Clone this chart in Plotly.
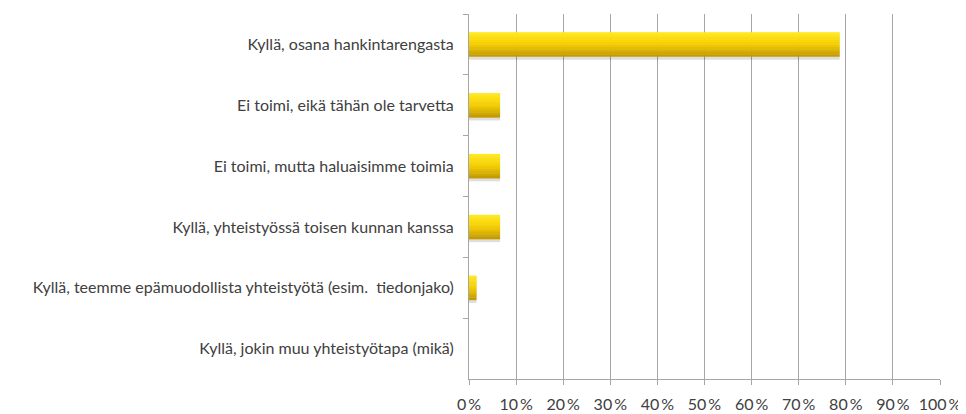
import plotly.graph_objects as go

categories = [
    "Kyllä, osana hankintarengasta",
    "Ei toimi, eikä tähän ole tarvetta",
    "Ei toimi, mutta haluaisimme toimia",
    "Kyllä, yhteistyössä toisen kunnan kanssa",
    "Kyllä, teemme epämuodollista yhteistyötä (esim.  tiedonjako)",
    "Kyllä, jokin muu yhteistyötapa (mikä)",
]
values = [78.7, 6.6, 6.6, 6.6, 1.6, 0.0]
tick_vals = [0, 10, 20, 30, 40, 50, 60, 70, 80, 90, 100]
tick_text = [f"{v}\u2009%" for v in tick_vals]

fig = go.Figure()

# soft shadow
fig.add_trace(go.Bar(
    x=values, y=categories, orientation="h",
    width=0.44, offset=-0.19,
    marker=dict(color="rgba(0,0,0,0.13)", line=dict(width=0)),
    hoverinfo="skip", showlegend=False,
))

# gradient strips (top light -> bottom dark)
top = (255, 232, 30)
mid = (246, 206, 0)
bot = (196, 156, 0)
n = 10
bw = 0.40
for i in range(n):
    t = i / (n - 1)
    if t < 0.5:
        a, b, s = top, mid, t / 0.5
    else:
        a, b, s = mid, bot, (t - 0.5) / 0.5
    c = tuple(int(a[k] + (b[k] - a[k]) * s) for k in range(3))
    fig.add_trace(go.Bar(
        x=values, y=categories, orientation="h",
        width=bw / n + 0.004, offset=-bw / 2 + i * bw / n,
        marker=dict(color=f"rgb{c}", line=dict(width=0)),
        hoverinfo="skip", showlegend=False,
    ))

fnt = dict(family="Lato, Roboto, sans-serif", size=16, color="#404040")
fig.update_layout(
    width=958, height=406,
    margin=dict(l=461, r=26, t=6, b=35),
    barmode="overlay",
    plot_bgcolor="white", paper_bgcolor="white",
    font=fnt,
    xaxis=dict(
        range=[0, 100], tickvals=tick_vals, ticktext=tick_text,
        showgrid=True, gridcolor="#a6a6a6", gridwidth=1,
        showline=True, linecolor="#a6a6a6", linewidth=1,
        ticks="outside", ticklen=5, tickcolor="#a6a6a6",
        zeroline=False, fixedrange=True, automargin=False,
        ticklabelstandoff=6,
        tickfont=fnt,
    ),
    yaxis=dict(
        type="category", autorange="reversed",
        showline=True, linecolor="#a6a6a6", linewidth=1,
        ticks="outside", ticklen=5, tickcolor="#a6a6a6",
        tickson="boundaries", showgrid=False, automargin=False,
        ticklabelstandoff=11,
        tickfont=fnt,
    ),
)

fig.write_html("out.html")
